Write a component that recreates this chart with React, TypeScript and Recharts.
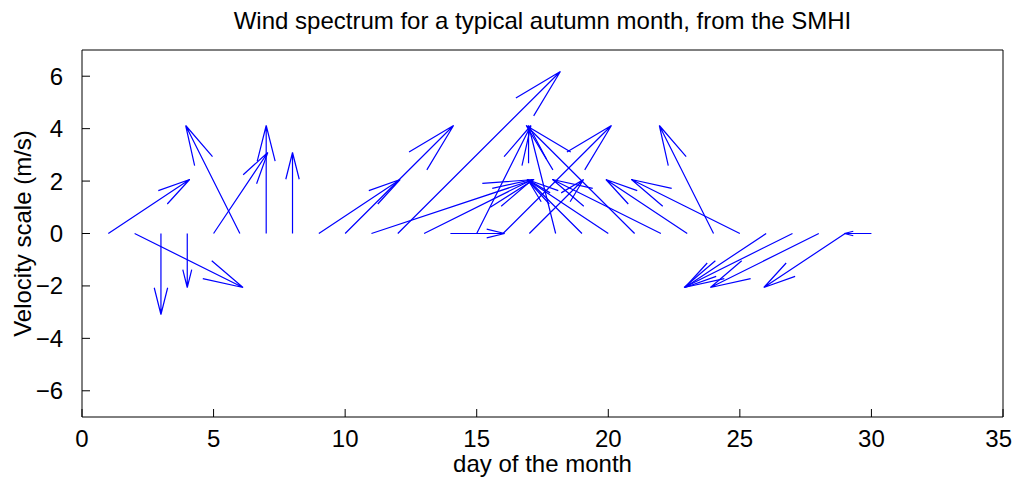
import { ScatterChart, Scatter, XAxis, YAxis, Label } from "recharts";

// one vector per day, drawn from (day, 0) like a feather plot
const days = [
  1, 2, 3, 4, 5, 6, 7, 8, 9, 10, 11, 12, 13, 14, 15, 16, 17, 18, 19, 20, 21,
  22, 23, 24, 25, 26, 27, 28, 29, 30,
];
const uWind = [
  3.09, 4.12, 0, 0, 2.06, -2.06, 0, 0, 3.09, 4.12, 6.18, 6.18, 4.12, 2.06,
  2.06, 4.12, 2.06, -1.03, -2.06, -3.09, -4.12, -4.12, -3.09, -2.06, -4.12,
  -3.09, -4.12, -4.12, -3.09, -1.03,
];
const vWind = [
  2.06, -2.06, -3.09, -2.06, 3.09, 4.12, 4.12, 3.09, 2.06, 4.12, 2.06, 6.18,
  2.06, 0, 4.12, 4.12, 2.06, 4.12, 2.06, 2.06, 4.12, 2.06, 2.06, 4.12, 2.06,
  -2.06, -2.06, -2.06, -2.06, 0,
];
const xTicks = [0, 5, 10, 15, 20, 25, 30, 35];
const yTicks = [-6, -4, -2, 0, 2, 4, 6];

// arrow head shape (matlab quiver style)
const HEAD_LEN = 0.33;
const HEAD_WIDTH = 0.25;
const HEAD_MAX = 5.8;

const W = 1006;
const H = 469;
const FONT = 24;

function arrowPoints(day: number, u: number, v: number) {
  const len = Math.hypot(u, v) || 1;
  const s = HEAD_LEN * Math.min(1, HEAD_MAX / len);
  const tx = day + u;
  const ty = v;
  return [
    { x: day, y: 0 },
    { x: tx, y: ty },
    { x: tx - s * (u + HEAD_WIDTH * v), y: ty - s * (v - HEAD_WIDTH * u) },
    { x: tx, y: ty },
    { x: tx - s * (u - HEAD_WIDTH * v), y: ty - s * (v + HEAD_WIDTH * u) },
  ];
}

const arrows = days.map((d, i) => arrowPoints(d, uWind[i], vWind[i]));

const noDot = () => <g />;
const minus = (t: number) => (t < 0 ? `\u2212${Math.abs(t)}` : `${t}`);

// keep the last x label inside the figure, like matlab does
const XTick = (props: any) => {
  const { x, y, payload } = props;
  const label = String(payload.value);
  const half = (label.length * 0.556 * FONT) / 2;
  const cx = Math.min(x, W - half - 2);
  return (
    <text
      x={cx}
      y={y}
      dy="0.71em"
      textAnchor="middle"
      fontSize={FONT}
      fill="#000"
    >
      {label}
    </text>
  );
};

export default function App() {
  const txt = { fontSize: FONT, fill: "#000" };

  return (
    <div
      style={{
        position: "absolute",
        left: 8,
        top: 8,
        fontFamily: "'Liberation Sans', Arial, Helvetica, sans-serif",
      }}
    >
      <ScatterChart
        width={W}
        height={H}
        margin={{ top: 41, right: 10, bottom: 0, left: 0 }}
      >
        <XAxis
          xAxisId="b"
          type="number"
          dataKey="x"
          domain={[0, 35]}
          ticks={xTicks}
          interval={0}
          allowDataOverflow
          height={60}
          tickSize={-8}
          tickMargin={21}
          stroke="#000"
          tick={<XTick />}
        >
          <Label
            value="day of the month"
            position="insideBottom"
            offset={5}
            style={txt}
          />
        </XAxis>
        <XAxis
          xAxisId="t"
          orientation="top"
          type="number"
          dataKey="x"
          domain={[0, 35]}
          ticks={xTicks}
          interval={0}
          allowDataOverflow
          height={1}
          tickSize={-8}
          tick={false}
          stroke="#000"
        >
          <Label
            value="Wind spectrum for a typical autumn month, from the SMHI"
            position="top"
            offset={20}
            style={txt}
          />
        </XAxis>
        <YAxis
          yAxisId="l"
          type="number"
          dataKey="y"
          domain={[-7, 7]}
          ticks={yTicks}
          interval={0}
          allowDataOverflow
          width={74}
          tickSize={-8}
          tickMargin={27}
          tickFormatter={minus}
          stroke="#000"
          tick={txt}
        >
          <Label
            value="Velocity scale (m/s)"
            angle={-90}
            position="insideLeft"
            offset={14}
            style={{ ...txt, textAnchor: "middle" }}
          />
        </YAxis>
        <YAxis
          yAxisId="r"
          orientation="right"
          type="number"
          dataKey="y"
          domain={[-7, 7]}
          ticks={yTicks}
          interval={0}
          allowDataOverflow
          width={1}
          tickSize={-8}
          tick={false}
          stroke="#000"
        />
        {arrows.map((pts, i) => (
          <Scatter
            key={`day-${days[i]}`}
            xAxisId="b"
            yAxisId="l"
            data={pts}
            fill="#0000ff"
            stroke="#0000ff"
            line={{ stroke: "#0000ff", strokeWidth: 1.2 }}
            lineType="joint"
            shape={noDot}
            isAnimationActive={false}
          />
        ))}
      </ScatterChart>
    </div>
  );
}
